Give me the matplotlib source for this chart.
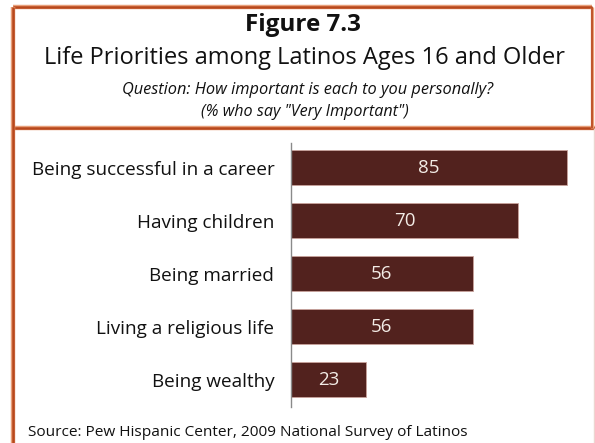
import matplotlib
matplotlib.use("Agg")
import matplotlib.pyplot as plt
from matplotlib.lines import Line2D

categories = ["Being successful in a career", "Having children", "Being married",
              "Living a religious life", "Being wealthy"]
values = [85, 70, 56, 56, 23]

title = "Figure 7.3"
subtitle = "Life Priorities among Latinos Ages 16 and Older"
question = "Question: How important is each to you personally?"
note = "(% who say \"Very Important\")"
source = "Source: Pew Hispanic Center, 2009 National Survey of Latinos"

FONT = ["Open Sans", "DejaVu Sans"]
BAR = "#52221e"
BORDER = "#b8481c"
W, H = 595, 443

fig = plt.figure(figsize=(W / 100, H / 100), dpi=100)
fig.patch.set_facecolor("white")


def fx(px):
    return px / W


def fy(py):
    return 1 - py / H


# frame lines around the header and down the left side
def fline(x0, y0, x1, y1, color, lw):
    fig.add_artist(Line2D([fx(x0), fx(x1)], [fy(y0), fy(y1)], color=color, lw=lw,
                          transform=fig.transFigure, solid_capstyle="butt"))


fline(13, 7, 592, 7, "#e8a07a", 3.2)
fline(13, 7, 592, 7, BORDER, 1.8)
fline(13, 128, 595, 128, "#e8a07a", 3.2)
fline(13, 128, 595, 128, BORDER, 1.8)
fline(13, 7, 13, 443, "#e8a07a", 3.2)
fline(13, 7, 13, 443, BORDER, 1.8)
fline(592, 7, 592, 128, "#e8a07a", 2.4)
fline(592, 7, 592, 128, BORDER, 1.2)
fline(594, 128, 594, 443, "#edd5d0", 1.0)

# header texts
fig.text(fx(303), fy(25), title, ha="center", va="center", fontsize=17.5,
         fontweight="bold", family=FONT, color="#111111")
fig.text(fx(305), fy(58), subtitle, ha="center", va="center", fontsize=17,
         family=FONT, color="#111111")
fig.text(fx(308), fy(90), question, ha="center", va="center", fontsize=11.8,
         style="italic", family=FONT, color="#111111")
fig.text(fx(305), fy(112), note, ha="center", va="center", fontsize=11.6,
         style="italic", family=FONT, color="#111111")
fig.text(fx(28), fy(432), source, ha="left", va="center", fontsize=11.1,
         family=FONT, color="#111111")

# bar chart
ax = fig.add_axes([fx(291), fy(407), fx(591) - fx(291), fy(143) - fy(407)])
ax.set_facecolor("none")
pos = list(range(len(categories)))
bars = ax.barh(pos, values, height=0.66, color=BAR, edgecolor="#c9a29c", linewidth=0.6)
ax.set_xlim(0, 300 / 3.247)
ax.set_ylim(len(categories) - 1 + 0.51, -0.47)
for b, v in zip(bars, values):
    ax.text(v / 2, b.get_y() + b.get_height() / 2, f"{v}", ha="center", va="center",
            color="#f3ece6", fontsize=13.5, family=FONT)
ax.set_yticks(pos)
ax.set_yticklabels(categories, family=FONT, fontsize=13.6, color="#111111")
ax.tick_params(axis="y", length=0, pad=12)
ax.set_xticks([])
for s in ["top", "right", "bottom"]:
    ax.spines[s].set_visible(False)
ax.spines["left"].set_color("#8a8a8a")
ax.spines["left"].set_linewidth(1.0)

fig.savefig("out.png", dpi=100)
